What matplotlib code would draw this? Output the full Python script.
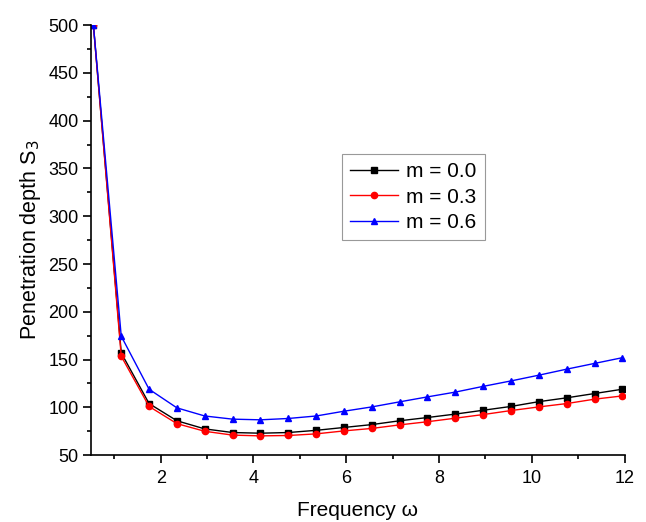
import numpy as np
import matplotlib
matplotlib.use("Agg")
import matplotlib.pyplot as plt
from matplotlib.ticker import MultipleLocator

# frequency values (marker positions)
freq = [0.55, 1.15, 1.75, 2.35, 2.95, 3.55, 4.15, 4.75, 5.35, 5.95,
        6.55, 7.15, 7.75, 8.35, 8.95, 9.55, 10.15, 10.75, 11.35, 11.95]

s_m00 = [500, 157, 104, 86, 77.5, 73.7, 73, 73.7, 76, 79,
         82, 86, 89.4, 93, 97, 101, 106, 110, 114.5, 119]
s_m03 = [500, 153.5, 101, 83, 75, 71, 70.2, 70.6, 72.3, 75.4,
         78, 81.7, 85, 88.7, 92.5, 96.7, 100.5, 104, 108.6, 112]
s_m06 = [500, 174.5, 119, 99.5, 91, 87.7, 87, 88.4, 91, 96,
         100.5, 105.8, 111, 116, 122, 127.7, 133.7, 140, 146, 152]

labels = ["m = 0.0", "m = 0.3", "m = 0.6"]

def main():
    plt.rcParams["font.family"] = ["Liberation Sans", "DejaVu Sans"]
    plt.rcParams["font.size"] = 10

    fig = plt.figure(figsize=(6.46, 5.22), dpi=100)
    ax = fig.add_axes([0.141, 0.128, 0.826, 0.824])

    ax.plot(freq, s_m00, color="black", marker="s", markersize=4.5, lw=1, label=labels[0])
    ax.plot(freq, s_m03, color="red", marker="o", markersize=4.5, lw=1, label=labels[1])
    ax.plot(freq, s_m06, color="blue", marker="^", markersize=5, lw=1, label=labels[2])

    ax.set_xlim(0.5, 12)
    ax.set_ylim(50, 500)
    ax.xaxis.set_major_locator(MultipleLocator(2))
    ax.xaxis.set_minor_locator(MultipleLocator(1))
    ax.yaxis.set_major_locator(MultipleLocator(50))
    ax.yaxis.set_minor_locator(MultipleLocator(25))
    ax.tick_params(which="major", direction="out", length=6, width=1.2, labelsize=13)
    ax.tick_params(which="minor", direction="out", length=3, width=1.2)
    ax.tick_params(axis="x", which="major", pad=5)
    ax.tick_params(axis="y", which="major", pad=3)
    ax.spines["top"].set_visible(False)
    ax.spines["right"].set_visible(False)
    ax.spines["left"].set_linewidth(1.2)
    ax.spines["bottom"].set_linewidth(1.2)

    ax.set_xlabel("Frequency ω", fontsize=15, labelpad=10)
    ax.set_ylabel("Penetration depth S$_3$", fontsize=15.5, labelpad=4)

    leg = ax.legend(loc="upper left", bbox_to_anchor=(0.47, 0.70), fontsize=15,
                    frameon=True, fancybox=False, handlelength=2.3,
                    handletextpad=0.4, borderpad=0.4, labelspacing=0.3,
                    borderaxespad=0)
    leg.get_frame().set_edgecolor("gray")
    leg.get_frame().set_linewidth(0.8)

    fig.savefig("out.png", dpi=100)

if __name__ == '__main__':
    main()
